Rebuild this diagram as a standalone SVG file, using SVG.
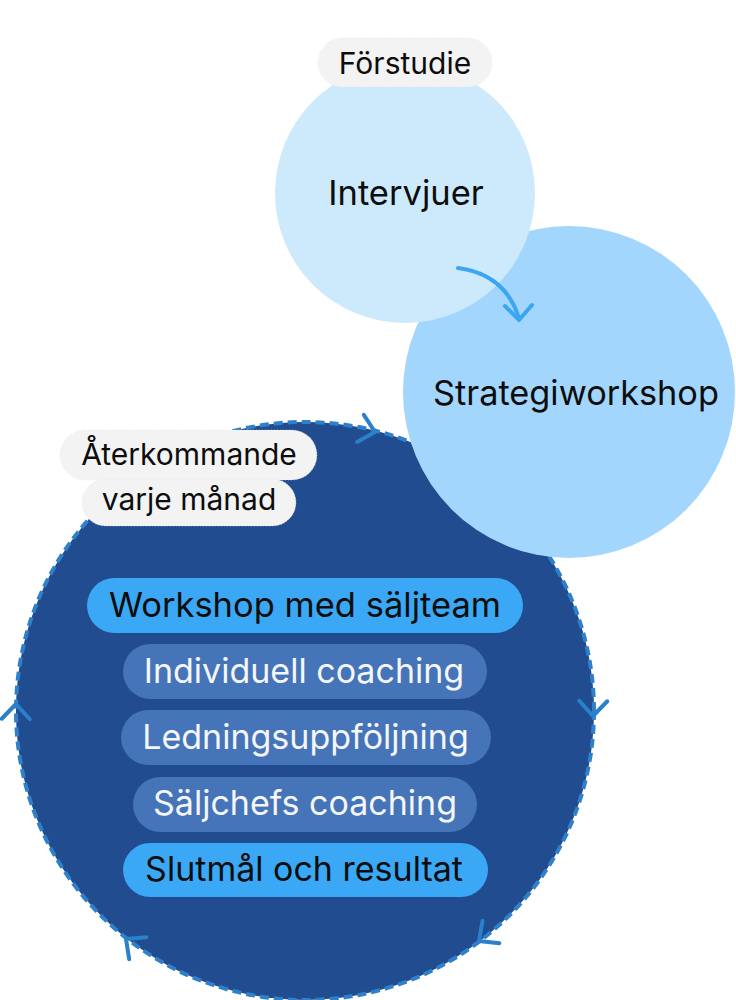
<svg xmlns="http://www.w3.org/2000/svg" width="736" height="1000" viewBox="0 0 736 1000">
  <defs>
    <style>
      .t { font-family: Inter, "Noto Sans", "Liberation Sans", sans-serif; text-anchor: middle; }
      .dark { fill: #0d0d0d; }
      .light { fill: #f5f6f8; }
      .tag { fill: #f3f3f3; stroke: #d4e6f6; stroke-width: 0.6; stroke-dasharray: 1 2; }
      .pillA { fill: #3aa8f5; }
      .pillB { fill: #4674b9; }
      .chev { fill: none; stroke: #2b80cb; stroke-width: 4; stroke-linecap: round; stroke-linejoin: round; }
    </style>
  </defs>

  <g id="cycle">
    <circle cx="305" cy="711" r="289" fill="#214c8f" stroke="#2f80cb" stroke-width="4" stroke-dasharray="9 5"/>
  </g>

  <g id="strategiworkshop">
    <circle cx="569" cy="392" r="166" fill="#a3d6fc"/>
    <text class="t dark" x="576" y="405" font-size="34.3">Strategiworkshop</text>
  </g>

  <g id="intervjuer">
    <circle cx="405" cy="193" r="130" fill="#cde9fc"/>
    <text class="t dark" x="406" y="205" font-size="34.5">Intervjuer</text>
  </g>

  <g id="forstudie">
    <rect class="tag" x="318" y="38" width="174" height="49" rx="24.5"/>
    <text class="t dark" x="405" y="74" font-size="30">Förstudie</text>
  </g>

  <g id="connectors">
    <path d="M458,268 Q505,274 519,318" fill="none" stroke="#3aa6f2" stroke-width="4" stroke-linecap="round"/>
    <path d="M505,306 L519,320 L532,305" fill="none" stroke="#3aa6f2" stroke-width="4" stroke-linecap="round" stroke-linejoin="round"/>
    <g id="cycle-arrows">
      <path class="chev" d="M-15,-14 L0,0 L-15,14" transform="translate(375,432) rotate(14)"/>
      <path class="chev" d="M-15,-14 L0,0 L-15,14" transform="translate(593,716) rotate(91)"/>
      <path class="chev" d="M-15,-14 L0,0 L-15,14" transform="translate(479,941) rotate(143)"/>
      <path class="chev" d="M-15,-14 L0,0 L-15,14" transform="translate(126,939) rotate(218)"/>
      <path class="chev" d="M-15,-14 L0,0 L-15,14" transform="translate(16,704) rotate(271)"/>
    </g>
  </g>

  <g id="aterkommande">
    <rect class="tag" x="60" y="430" width="257" height="50" rx="25"/>
    <rect class="tag" x="82" y="479" width="214" height="47" rx="23.5"/>
    <text class="t dark" x="189" y="465" font-size="30">Återkommande</text>
    <text class="t dark" x="189" y="510" font-size="30">varje månad</text>
  </g>

  <g id="workshop-saljteam">
    <rect class="pillA" x="87" y="578" width="436" height="55" rx="27.5"/>
    <text class="t dark" x="305" y="617" font-size="34.5">Workshop med säljteam</text>
  </g>
  <g id="individuell-coaching">
    <rect class="pillB" x="123" y="644" width="364" height="55" rx="27.5"/>
    <text class="t light" x="304" y="683" font-size="34">Individuell coaching</text>
  </g>
  <g id="ledningsuppfoljning">
    <rect class="pillB" x="121" y="710" width="370" height="55" rx="27.5"/>
    <text class="t light" x="305.5" y="749" font-size="34">Ledningsuppföljning</text>
  </g>
  <g id="saljchefs-coaching">
    <rect class="pillB" x="133" y="777" width="344" height="55" rx="27.5"/>
    <text class="t light" x="305" y="815" font-size="34">Säljchefs coaching</text>
  </g>
  <g id="slutmal">
    <rect class="pillA" x="123" y="843" width="365" height="54" rx="27"/>
    <text class="t dark" x="304" y="881" font-size="34">Slutmål och resultat</text>
  </g>
</svg>
